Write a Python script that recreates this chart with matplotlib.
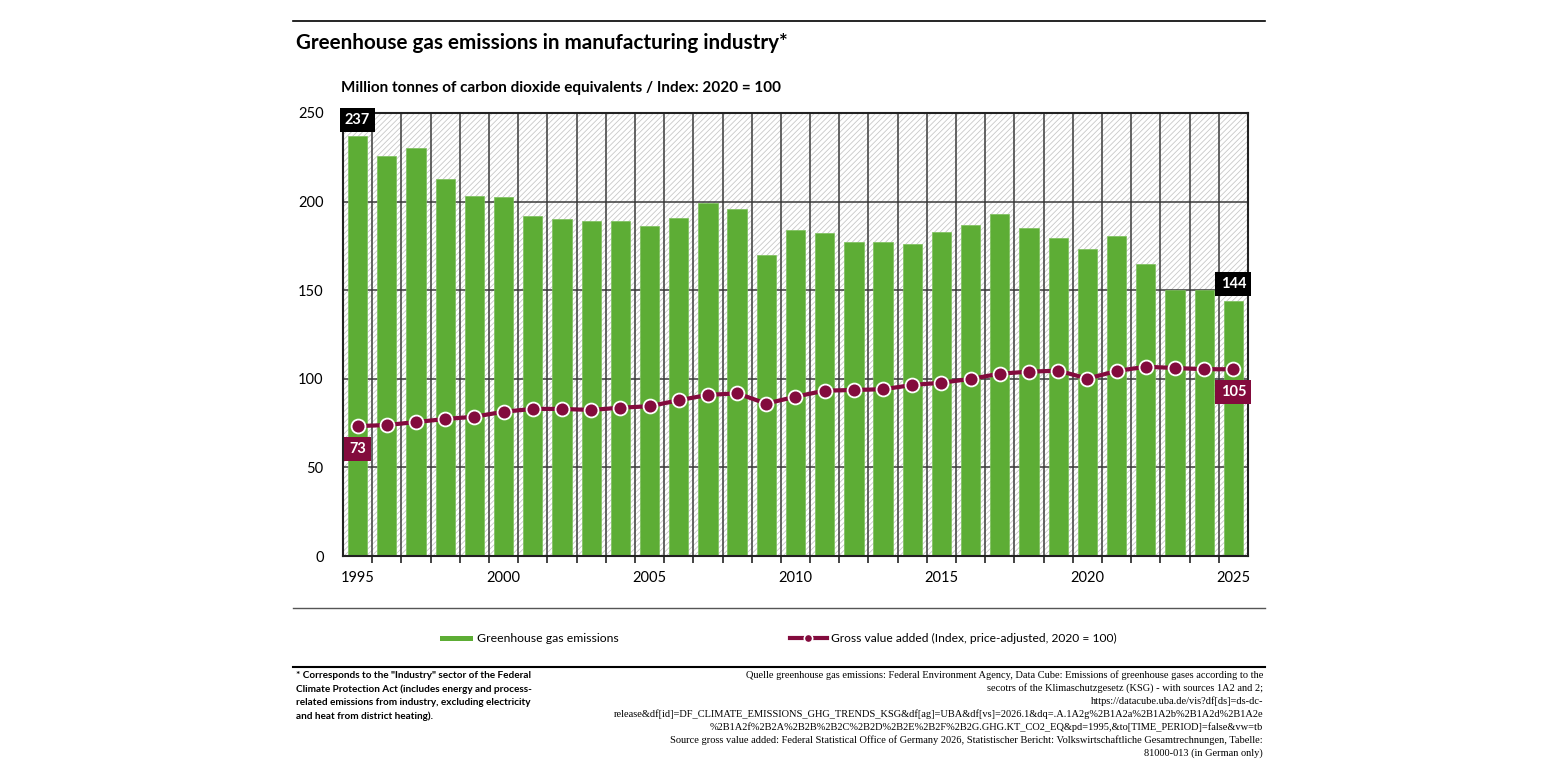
import numpy as np
import matplotlib.pyplot as plt
from matplotlib.patches import Rectangle
from matplotlib.lines import Line2D

# Greenhouse gas emissions in manufacturing industry
years = list(range(1995, 2026))
emissions = [237, 226, 230, 213, 203, 202.6, 192, 190, 189, 189, 186.5, 191, 199, 196,
             170, 184, 182, 177, 177, 176, 183, 187, 193, 185, 179.5, 173, 180.5, 165,
             150, 150, 144]
gva_index = [73.3, 73.9, 75.6, 77.3, 78.6, 81.4, 83.0, 83.0, 82.4, 83.7, 84.5, 87.9, 90.9,
             91.8, 86.0, 89.9, 93.3, 93.7, 94.1, 96.5, 97.8, 99.9, 102.9, 104.0, 104.6,
             100.1, 104.4, 106.8, 106.1, 105.4, 105.4]
year_labels = [1995, 2000, 2005, 2010, 2015, 2020, 2025]
y_ticks = [0, 50, 100, 150, 200, 250]

GREEN = '#5dad35'
MAROON = '#830b3d'

plt.rcParams['font.family'] = ['Lato', 'DejaVu Sans']
plt.rcParams['hatch.linewidth'] = 0.6
plt.rcParams['hatch.color'] = '#c8c8c8'

fig = plt.figure(figsize=(15.45, 7.75), dpi=100)
ax = fig.add_axes([343 / 1545, 1 - 556 / 775, 905 / 1545, 443 / 775])

# hatched background
bg = Rectangle((0, 0), 1, 1, transform=ax.transAxes, facecolor='white',
               edgecolor='#c8c8c8', hatch='//////', linewidth=0, zorder=0)
ax.add_patch(bg)

ax.bar(years, emissions, width=0.66, color=GREEN, edgecolor='#7cc05a', linewidth=0.5, zorder=3)
ax.plot(years, gva_index, color=MAROON, linewidth=3, marker='o', markersize=10,
        markerfacecolor=MAROON, markeredgecolor='white', markeredgewidth=1.3, zorder=5)

ax.set_xlim(1994.5, 2025.5)
ax.set_ylim(0, 250)
ax.set_yticks(y_ticks)
ax.set_xticks(year_labels)
ax.set_xticks(np.arange(1995.5, 2025, 1), minor=True)
ax.tick_params(axis='x', which='major', length=0, pad=11, labelsize=10.5)
ax.tick_params(axis='x', which='minor', length=5, width=1.2, color='#222')
ax.tick_params(axis='y', length=0, pad=14, labelsize=10.5)
ax.grid(axis='x', which='minor', color='#3a3a3a', linewidth=1.1, zorder=1)
ax.grid(axis='y', which='major', color='#3a3a3a', linewidth=1.1, zorder=1)
ax.set_axisbelow(True)
for s in ax.spines.values():
    s.set_color('#222')
    s.set_linewidth(1.5)
    s.set_zorder(6)

# value labels
lab = dict(color='white', fontweight='bold', fontsize=10.5, ha='center', va='center', zorder=8)
box = 'square,pad=0.36'
ax.text(years[0], 246, f'{emissions[0]:.0f}', bbox=dict(boxstyle=box, fc='black', ec='none'), **lab)
ax.text(years[-1], 153.5, f'{emissions[-1]:.0f}', bbox=dict(boxstyle=box, fc='black', ec='none'), **lab)
ax.text(years[0], 60.4, f'{gva_index[0]:.0f}', bbox=dict(boxstyle=box, fc=MAROON, ec='none'), **lab)
ax.text(years[-1], 92.5, f'{gva_index[-1]:.0f}', bbox=dict(boxstyle=box, fc=MAROON, ec='none'), **lab)

# title, subtitle, rules
fig.add_artist(Line2D([293 / 1545, 1265 / 1545], [1 - 21 / 775] * 2, color='black', linewidth=1.2))
fig.text(296 / 1545, 1 - 43 / 775, 'Greenhouse gas emissions in manufacturing industry*',
         fontsize=14.9, fontweight='bold', va='center', ha='left')
fig.text(341 / 1545, 1 - 88 / 775, 'Million tonnes of carbon dioxide equivalents / Index: 2020 = 100',
         fontsize=11, fontweight='bold', va='center', ha='left')
fig.add_artist(Line2D([293 / 1545, 1265 / 1545], [1 - 608 / 775] * 2, color='#555', linewidth=1))
fig.add_artist(Line2D([293 / 1545, 1265 / 1545], [1 - 667 / 775] * 2, color='black', linewidth=1.5))

# legend
fig.add_artist(Rectangle((440 / 1545, 1 - 641 / 775), 33 / 1545, 5 / 775, facecolor=GREEN,
                         edgecolor='none', transform=fig.transFigure))
fig.text(477 / 1545, 1 - 638 / 775, 'Greenhouse gas emissions', fontsize=8.8, va='center')
fig.add_artist(Line2D([790 / 1545, 827 / 1545], [1 - 638 / 775] * 2, color=MAROON, linewidth=3))
fig.add_artist(Line2D([808 / 1545], [1 - 638 / 775], color=MAROON, marker='o', markersize=6,
                      markerfacecolor=MAROON, markeredgecolor='white', markeredgewidth=1.2))
fig.text(831 / 1545, 1 - 638 / 775, 'Gross value added (Index, price-adjusted, 2020 = 100)',
         fontsize=8.65, va='center')

# footnotes
note = ('* Corresponds to the "Industry" sector of the Federal\n'
        'Climate Protection Act (includes energy and process-\n'
        'related emissions from industry, excluding electricity\n'
        'and heat from district heating).')
fig.text(296 / 1545, 1 - 671 / 775, note, fontsize=7.2, fontweight='bold', va='top', ha='left',
         linespacing=1.6)
source = ('Quelle greenhouse gas emissions: Federal Environment Agency, Data Cube: Emissions of greenhouse gases according to the\n'
          'secotrs of the Klimaschutzgesetz (KSG) - with sources 1A2 and 2;\n'
          'https://datacube.uba.de/vis?df[ds]=ds-dc-\n'
          'release&df[id]=DF_CLIMATE_EMISSIONS_GHG_TRENDS_KSG&df[ag]=UBA&df[vs]=2026.1&dq=.A.1A2g%2B1A2a%2B1A2b%2B1A2d%2B1A2e\n'
          '%2B1A2f%2B2A%2B2B%2B2C%2B2D%2B2E%2B2F%2B2G.GHG.KT_CO2_EQ&pd=1995,&to[TIME_PERIOD]=false&vw=tb\n'
          'Source gross value added: Federal Statistical Office of Germany 2026, Statistischer Bericht: Volkswirtschaftliche Gesamtrechnungen, Tabelle:\n'
          '81000-013 (in German only)')
fig.text(1263 / 1545, 1 - 670 / 775, source, fontsize=7.5, va='top', ha='right',
         family=['Liberation Serif', 'DejaVu Serif'], linespacing=1.43)

fig.savefig('out.png', dpi=100)
